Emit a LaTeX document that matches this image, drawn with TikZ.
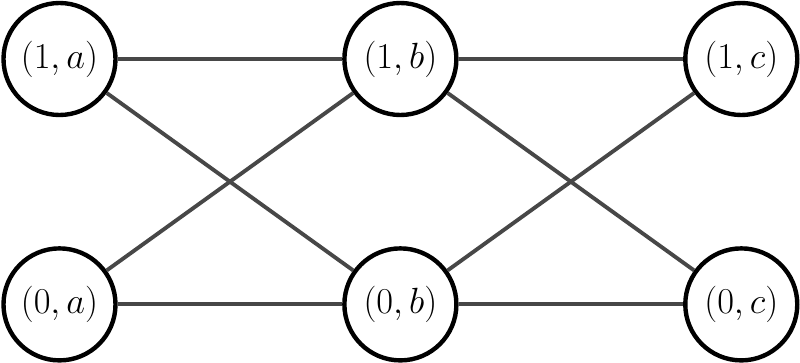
\documentclass[tikz,border=0pt]{standalone}
\usepackage{tikz}
\usetikzlibrary{positioning}
\tikzset{
  vertex/.style={
    circle, draw=black, fill=white, line width=2.5pt,
    minimum size=2.24cm, inner sep=0pt,
    font=\fontsize{20}{24}\selectfont
  },
  link/.style={draw=black!72, line width=2.2pt},
}
\begin{document}
\begin{tikzpicture}[node distance=4.49cm and 2.58cm]
\useasboundingbox (0,0) rectangle (16,7.24);

% top row
\node[vertex] (a1) at (1.19,6.06) {$(1,a)$};
\node[vertex, right=4.49cm of a1] (b1) {$(1,b)$};
\node[vertex, right=4.49cm of b1] (c1) {$(1,c)$};

% bottom row
\node[vertex, below=2.58cm of a1] (a0) {$(0,a)$};
\node[vertex, below=2.58cm of b1] (b0) {$(0,b)$};
\node[vertex, below=2.58cm of c1] (c0) {$(0,c)$};

% edges
\draw[link] (a1) -- (b1);
\draw[link] (a1) -- (b0);
\draw[link] (a0) -- (b1);
\draw[link] (a0) -- (b0);
\draw[link] (b1) -- (c1);
\draw[link] (b1) -- (c0);
\draw[link] (b0) -- (c1);
\draw[link] (b0) -- (c0);

\end{tikzpicture}
\end{document}
